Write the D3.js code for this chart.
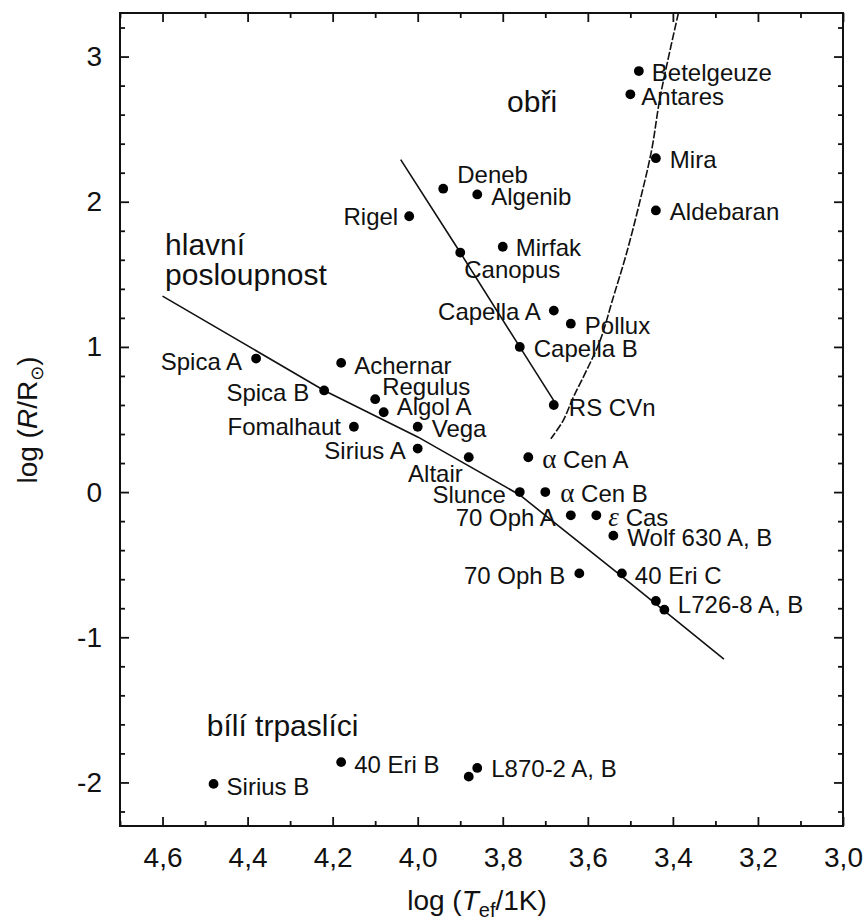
<!DOCTYPE html>
<html>
<head>
<meta charset="utf-8">
<script src="https://cdn.jsdelivr.net/npm/d3@7"></script>
<style>
  html, body { margin: 0; padding: 0; background: #fff; }
  svg { display: block; font-family: "Liberation Sans", Arial, sans-serif; }
</style>
</head>
<body>
<svg id="chart" width="868" height="920"></svg>
<script>
// Hertzsprung–Russell diagram: log R against log T_ef for well-known stars.
// Each star row: [label, log(T_ef/1K), log(R/R_sun)]; an empty label marks a companion dot.
const giants = [
  ["Betelgeuze", 3.48, 2.90],
  ["Antares", 3.50, 2.74],
  ["Mira", 3.44, 2.30],
  ["Aldebaran", 3.44, 1.94],
  ["Deneb", 3.94, 2.09],
  ["Algenib", 3.86, 2.05],
  ["Rigel", 4.02, 1.90],
  ["Mirfak", 3.80, 1.69],
  ["Canopus", 3.90, 1.65],
  ["Capella A", 3.68, 1.25],
  ["Pollux", 3.64, 1.16],
  ["Capella B", 3.76, 1.00],
  ["RS CVn", 3.68, 0.60]
];
const mainSequence = [
  ["Spica A", 4.38, 0.92],
  ["Achernar", 4.18, 0.89],
  ["Spica B", 4.22, 0.70],
  ["Regulus", 4.10, 0.64],
  ["Algol A", 4.08, 0.55],
  ["Fomalhaut", 4.15, 0.45],
  ["Vega", 4.00, 0.45],
  ["Sirius A", 4.00, 0.30],
  ["Altair", 3.88, 0.24],
  ["α Cen A", 3.74, 0.24],
  ["Slunce", 3.76, 0.00],
  ["α Cen B", 3.70, 0.00],
  ["70 Oph A", 3.64, -0.16],
  ["ε Cas", 3.58, -0.16],
  ["Wolf 630 A, B", 3.54, -0.30],
  ["70 Oph B", 3.62, -0.56],
  ["40 Eri C", 3.52, -0.56],
  ["L726-8 A, B", 3.44, -0.75],
  ["", 3.42, -0.81]
];
const whiteDwarfs = [
  ["Sirius B", 4.48, -2.01],
  ["40 Eri B", 4.18, -1.86],
  ["", 3.88, -1.96],
  ["L870-2 A, B", 3.86, -1.90]
];

// Guide lines through the diagram (log T, log R)
const mainSequenceLine = [[4.60, 1.35], [4.22, 0.70], [4.00, 0.38], [3.76, -0.02], [3.52, -0.58], [3.28, -1.15]];
const blueGiantLine = [[4.04, 2.29], [3.90, 1.65], [3.76, 1.00], [3.68, 0.63]];
const redGiantLine = [[3.387, 3.30], [3.43, 2.72], [3.45, 2.355], [3.477, 2.01], [3.509, 1.645],
  [3.54, 1.343], [3.571, 1.045], [3.603, 0.838], [3.634, 0.654], [3.658, 0.493], [3.687, 0.367]];

// Tick values
const xMajorTicks = [4.6, 4.4, 4.2, 4.0, 3.8, 3.6, 3.4, 3.2, 3.0];
const xMinorTicks = [4.7, 4.5, 4.3, 4.1, 3.9, 3.7, 3.5, 3.3, 3.1];
const yMajorTicks = [-2, -1, 0, 1, 2, 3];
const yMinorTicks = [-2.2, -1.8, -1.6, -1.4, -1.2, -0.8, -0.6, -0.4, -0.2, 0.2, 0.4, 0.6, 0.8,
  1.2, 1.4, 1.6, 1.8, 2.2, 2.4, 2.6, 2.8, 3.2];

// Region names
const regionLabels = [
  { lines: ["obři"], t: 3.79, r: 2.62 },
  { lines: ["hlavní", "posloupnost"], t: 4.594, r: 1.631 },
  { lines: ["bílí trpaslíci"], t: 4.496, r: -1.68 }
];

// Label placement per star: [text-anchor, dx, dy] in pixels from the dot centre
const labelPlacement = {
  "Betelgeuze": ["start", 13, 1], "Antares": ["start", 11, 2], "Mira": ["start", 14, 1],
  "Aldebaran": ["start", 14, 1], "Deneb": ["start", 14, -14], "Algenib": ["start", 14, 2],
  "Rigel": ["end", -11, 0], "Mirfak": ["start", 13, 1], "Canopus": ["start", 4, 17],
  "Capella A": ["end", -13, 1], "Pollux": ["start", 14, 2], "Capella B": ["start", 14, 1],
  "RS CVn": ["start", 15, 2], "Spica A": ["end", -14, 3], "Achernar": ["start", 13, 2],
  "Spica B": ["end", -15, 2], "Regulus": ["start", 7, -13], "Algol A": ["start", 13, -6],
  "Fomalhaut": ["end", -13, 0], "Vega": ["start", 14, 2], "Sirius A": ["end", -12, 2],
  "Altair": ["end", -6, 16], "α Cen A": ["start", 14, 2], "Slunce": ["end", -14, 2],
  "α Cen B": ["start", 15, 1], "70 Oph A": ["end", -15, 2], "ε Cas": ["start", 12, 2],
  "Wolf 630 A, B": ["start", 14, 2], "70 Oph B": ["end", -14, 2], "40 Eri C": ["start", 13, 2],
  "L726-8 A, B": ["start", 22, 3], "Sirius B": ["start", 13, 2], "40 Eri B": ["start", 13, 2],
  "L870-2 A, B": ["start", 14, 0]
};

const frame = { left: 120, right: 843, top: 13, bottom: 826 };
const svg = d3.select("#chart");

const x = d3.scaleLinear().domain([4.7, 3.0]).range([frame.left, frame.right]);
const y = d3.scaleLinear().domain([-2.3, 3.3]).range([frame.bottom, frame.top]);

const czech = d3.formatLocale({ decimal: ",", thousands: " ", grouping: [3], currency: ["", " Kč"], minus: "-" });
const fmtX = czech.format(".1f");
const fmtY = czech.format("d");

function styleAxis(g, fontSize) {
  g.select(".domain").remove();
  g.selectAll(".tick line").attr("stroke", "#111").attr("stroke-width", 1.8);
  g.selectAll(".tick text").attr("fill", "#111").style("font-size", fontSize + "px")
    .style("font-family", "'Liberation Sans', Arial, sans-serif");
}

// Bottom axis with labels, ticks pointing into the plot
svg.append("g").attr("transform", `translate(0,${frame.bottom})`)
  .call(d3.axisBottom(x).tickValues(xMajorTicks).tickSizeInner(-9).tickSizeOuter(0).tickPadding(21).tickFormat(fmtX))
  .call(g => styleAxis(g, 28));
svg.append("g").attr("transform", `translate(0,${frame.bottom})`)
  .call(d3.axisBottom(x).tickValues(xMinorTicks).tickSizeInner(-5).tickSizeOuter(0).tickFormat(""))
  .call(g => styleAxis(g, 28));
// Top axis, ticks only
svg.append("g").attr("transform", `translate(0,${frame.top})`)
  .call(d3.axisTop(x).tickValues(xMajorTicks).tickSizeInner(-9).tickSizeOuter(0).tickFormat(""))
  .call(g => styleAxis(g, 28));
svg.append("g").attr("transform", `translate(0,${frame.top})`)
  .call(d3.axisTop(x).tickValues(xMinorTicks).tickSizeInner(-5).tickSizeOuter(0).tickFormat(""))
  .call(g => styleAxis(g, 28));

// Left axis with labels
svg.append("g").attr("transform", `translate(${frame.left},0)`)
  .call(d3.axisLeft(y).tickValues(yMajorTicks).tickSizeInner(-9).tickSizeOuter(0).tickPadding(18).tickFormat(fmtY))
  .call(g => styleAxis(g, 28));
svg.append("g").attr("transform", `translate(${frame.left},0)`)
  .call(d3.axisLeft(y).tickValues(yMinorTicks).tickSizeInner(-5).tickSizeOuter(0).tickFormat(""))
  .call(g => styleAxis(g, 28));
// Right axis, ticks only
svg.append("g").attr("transform", `translate(${frame.right},0)`)
  .call(d3.axisRight(y).tickValues(yMajorTicks).tickSizeInner(-9).tickSizeOuter(0).tickFormat(""))
  .call(g => styleAxis(g, 28));
svg.append("g").attr("transform", `translate(${frame.right},0)`)
  .call(d3.axisRight(y).tickValues(yMinorTicks).tickSizeInner(-5).tickSizeOuter(0).tickFormat(""))
  .call(g => styleAxis(g, 28));

// Plot frame
svg.append("rect")
  .attr("x", frame.left).attr("y", frame.top)
  .attr("width", frame.right - frame.left).attr("height", frame.bottom - frame.top)
  .attr("fill", "none").attr("stroke", "#111").attr("stroke-width", 2);

// Clip for guide lines
svg.append("clipPath").attr("id", "plot-clip").append("rect")
  .attr("x", frame.left).attr("y", frame.top)
  .attr("width", frame.right - frame.left).attr("height", frame.bottom - frame.top);

const lines = svg.append("g").attr("clip-path", "url(#plot-clip)")
  .attr("fill", "none").attr("stroke", "#111");

const straight = d3.line().x(d => x(d[0])).y(d => y(d[1]));
const smooth = d3.line().x(d => x(d[0])).y(d => y(d[1])).curve(d3.curveCatmullRom);

lines.append("path").attr("d", straight(mainSequenceLine)).attr("stroke-width", 1.6);
lines.append("path").attr("d", straight(blueGiantLine)).attr("stroke-width", 1.6);
lines.append("path").attr("d", smooth(redGiantLine)).attr("stroke-width", 1.6)
  .attr("stroke-dasharray", "8,2");

// Stars
const stars = giants.concat(mainSequence, whiteDwarfs);

svg.append("g").selectAll("circle")
  .data(stars)
  .join("circle")
  .attr("cx", d => x(d[1]))
  .attr("cy", d => y(d[2]))
  .attr("r", 4.9)
  .attr("fill", "#000");

// Star labels; Greek letters set in a serif face
const greek = /[α-ωΑ-Ω]/;
const labels = svg.append("g").style("font-size", "24px").attr("fill", "#111");
stars.filter(d => d[0] !== "").forEach(d => {
  const [anchor, dx, dy] = labelPlacement[d[0]] || ["start", 13, 2];
  const t = labels.append("text")
    .attr("x", x(d[1]) + dx)
    .attr("y", y(d[2]) + dy)
    .attr("dy", "0.36em")
    .attr("text-anchor", anchor);
  const name = d[0];
  if (greek.test(name[0])) {
    t.append("tspan").style("font-family", "'Liberation Serif', 'DejaVu Serif', serif")
      .style("font-style", name[0] === "ε" ? "italic" : "normal")
      .style("font-size", "27px")
      .text(name[0]);
    t.append("tspan").text(name.slice(1));
  } else {
    t.text(name);
  }
});

// Region names
const regions = svg.append("g").style("font-size", "30px").attr("fill", "#111");
regionLabels.forEach(r => {
  const t = regions.append("text").attr("x", x(r.t)).attr("y", y(r.r));
  r.lines.forEach((line, i) => {
    t.append("tspan").attr("x", x(r.t)).attr("dy", i === 0 ? 0 : 30).text(line);
  });
});

// Axis titles
const xTitle = svg.append("text")
  .attr("x", 477).attr("y", 910)
  .attr("text-anchor", "middle")
  .style("font-size", "28px").attr("fill", "#111");
xTitle.append("tspan").text("log (");
xTitle.append("tspan").style("font-style", "italic").text("T");
xTitle.append("tspan").attr("dy", 7).style("font-size", "20px").text("ef");
xTitle.append("tspan").attr("dy", -7).text("/1K)");

const yTitle = svg.append("text")
  .attr("transform", "translate(37,420) rotate(-90)")
  .attr("text-anchor", "middle")
  .style("font-size", "28px").attr("fill", "#111");
yTitle.append("tspan").text("log (");
yTitle.append("tspan").style("font-style", "italic").text("R");
yTitle.append("tspan").text("/R");
yTitle.append("tspan").attr("dy", 6).style("font-size", "18px")
  .style("font-family", "'DejaVu Sans', sans-serif").text("⊙");
yTitle.append("tspan").attr("dy", -6).text(")");
</script>
</body>
</html>
